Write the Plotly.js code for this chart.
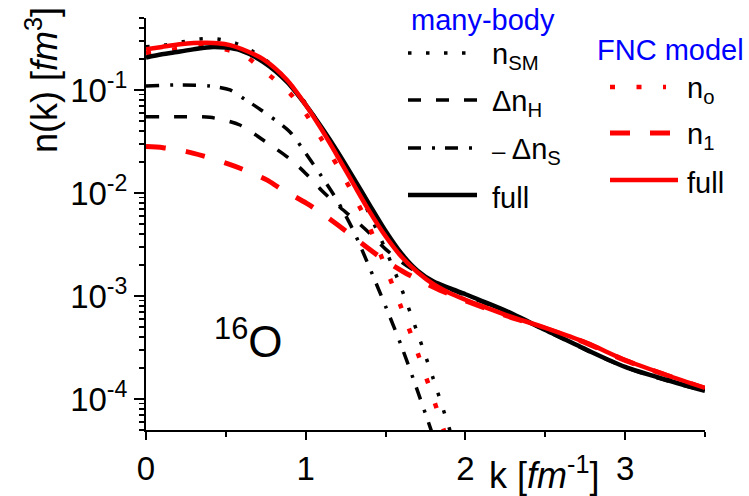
<!DOCTYPE html>
<html><head><meta charset="utf-8">
<script src="https://cdn.plot.ly/plotly-3.0.1.min.js"></script>
<style>html,body{margin:0;padding:0;background:#fff}</style>
</head><body><div id="chart" style="width:749px;height:496px"></div>
<script>
// many-body: n_SM (dotted)
const kSM = [0, 0.119, 0.23, 0.338, 0.449, 0.563, 0.672, 0.784, 0.9, 1.0, 1.1, 1.2, 1.3, 1.4, 1.5, 1.6, 1.7, 1.8, 1.9, 1.95];
const nSM = [0.263, 0.273, 0.294, 0.313, 0.313, 0.284, 0.235, 0.1775, 0.1161, 0.0741, 0.0427, 0.0237, 0.01259, 0.00617, 0.00282, 0.001175, 0.000437, 0.000155, 0.0000513, 0.000029];
// many-body: Delta n_H (dashed)
const kH = [0, 0.213, 0.40, 0.588, 0.733, 0.9, 1.0, 1.1, 1.2, 1.3, 1.4, 1.5, 1.6, 1.7, 1.8, 1.9, 2.0, 2.1, 2.26, 2.5, 2.76, 3.0, 3.26, 3.5];
const nH = [0.055, 0.055, 0.0543, 0.0457, 0.0327, 0.02148, 0.01549, 0.01059, 0.00759, 0.00562, 0.00407, 0.00285, 0.00214, 0.00168, 0.00137, 0.00117, 0.00102, 0.00088, 0.0007, 0.000463, 0.000297, 0.000203, 0.000151, 0.000119];
// many-body: -Delta n_S (dash-dot)
const kS = [0, 0.213, 0.40, 0.526, 0.62, 0.72, 0.9, 1.0, 1.1, 1.2, 1.3, 1.4, 1.5, 1.6, 1.7, 1.8, 1.85];
const nS = [0.1094, 0.112, 0.1094, 0.100, 0.081, 0.064, 0.0394, 0.0243, 0.01445, 0.00832, 0.00427, 0.00188, 0.000794, 0.000324, 0.00012, 0.0000427, 0.000025];
// many-body: full (solid)
const kMB = [0, 0.1, 0.213, 0.32, 0.42, 0.5, 0.588, 0.733, 0.883, 1.008, 1.1, 1.2, 1.3, 1.4, 1.5, 1.6, 1.7, 1.8, 1.9, 2.0, 2.1, 2.26, 2.5, 2.76, 3.0, 3.26, 3.5];
const nMB = [0.207, 0.222, 0.236, 0.252, 0.262, 0.258, 0.244, 0.188, 0.12, 0.069, 0.0432, 0.0251, 0.01396, 0.00767, 0.00427, 0.00257, 0.00176, 0.00138, 0.00119, 0.00104, 0.0009, 0.00071, 0.000468, 0.0003, 0.000205, 0.000153, 0.00012];
// FNC model: n_o (dotted)
const kN0 = [0, 0.15, 0.3, 0.45, 0.609, 0.733, 0.9, 1.0, 1.1, 1.2, 1.3, 1.4, 1.5, 1.6, 1.7, 1.8, 1.9];
const nN0 = [0.227, 0.245, 0.262, 0.255, 0.219, 0.156, 0.0933, 0.0589, 0.0331, 0.0182, 0.00955, 0.00462, 0.0019, 0.000759, 0.000282, 0.0001, 0.0000339];
// FNC model: n_1 (dashed)
const kN1 = [0, 0.107, 0.254, 0.357, 0.505, 0.589, 0.756, 0.839, 1.006, 1.1, 1.257, 1.34, 1.477, 1.611, 1.748, 1.84, 2.0, 2.26, 2.5, 2.76, 3.0, 3.26, 3.5];
const nN1 = [0.0282, 0.0275, 0.0252, 0.0229, 0.0194, 0.0174, 0.0134, 0.0111, 0.00794, 0.00636, 0.00421, 0.00334, 0.00232, 0.00172, 0.00133, 0.00114, 0.0009, 0.00064, 0.000485, 0.000347, 0.000237, 0.00017, 0.000127];
// FNC model: full (solid)
const kFR = [0, 0.1, 0.213, 0.3, 0.382, 0.45, 0.526, 0.6, 0.733, 0.883, 1.0, 1.1, 1.2, 1.3, 1.4, 1.5, 1.6, 1.7, 1.8, 1.9, 2.0, 2.1, 2.26, 2.5, 2.76, 3.0, 3.26, 3.5];
const nFR = [0.248, 0.262, 0.278, 0.286, 0.288, 0.285, 0.273, 0.25, 0.199, 0.125, 0.0716, 0.0412, 0.0226, 0.01216, 0.0066, 0.0038, 0.0024, 0.0017, 0.0013, 0.00107, 0.00092, 0.0008, 0.00065, 0.00049, 0.00035, 0.000239, 0.000171, 0.000128];

const xTickVals = [0, 1, 2, 3];
const xTickText = ['0', '1', '2', '3'];
const yTickVals = [1e-4, 1e-3, 1e-2, 1e-1];
const yTickText = ['10<sup>-4</sup>', '10<sup>-3</sup>', '10<sup>-2</sup>', '10<sup>-1</sup>'];

const mbLabels = ['n<sub>SM</sub>', '\u0394n<sub>H</sub>', '<span style="font-size:24px">\u2013</span> \u0394n<sub>S</sub>', 'full'];
const fncLabels = ['n<sub>o</sub>', 'n<sub>1</sub>', 'full'];

const FONT = 'Liberation Sans, Arial, sans-serif';
const BLACK = '#000000', RED = '#ff0000', BLUE = '#0000ff';

const mbStyles = [
  {k: kSM, n: nSM, color: BLACK, width: 3.5, dash: '3.5px,14.5px'},
  {k: kH, n: nH, color: BLACK, width: 3.5, dash: '13px,15px'},
  {k: kS, n: nS, color: BLACK, width: 3.5, dash: '13px,11px,3px,10px'},
  {k: kMB, n: nMB, color: BLACK, width: 4.5, dash: 'solid'}
];
const fncStyles = [
  {k: kN0, n: nN0, color: RED, width: 4.5, dash: '5px,21.5px'},
  {k: kN1, n: nN1, color: RED, width: 5, dash: '20px,20px'},
  {k: kFR, n: nFR, color: RED, width: 4.5, dash: 'solid'}
];

function mk(s, name) {
  return {x: s.k, y: s.n, type: 'scatter', mode: 'lines', name: name, showlegend: false,
    line: {color: s.color, width: s.width, dash: s.dash, shape: 'spline', smoothing: 0.8}, hoverinfo: 'skip'};
}
// drawing order
const traces = [
  mk(mbStyles[1], 'dnH'), mk(mbStyles[2], 'dnS'), mk(fncStyles[1], 'n1'), mk(fncStyles[0], 'n0'),
  mk(mbStyles[0], 'nSM'), mk(mbStyles[3], 'full MB'), mk(fncStyles[2], 'full FNC')
];

// plot area in pixels: x 146..705, y 18..430
const L = 146, R = 705, T = 18, B = 430;
const PX = p => (p - L) / (R - L);
const PY = p => (B - p) / (B - T);

const shapes = [], annotations = [];
// many-body legend
const mbRowY = [53, 100, 148, 195];
const mbLineEnd = [467, 477, 475, 477];
mbStyles.forEach((s, i) => {
  shapes.push({type: 'line', xref: 'paper', yref: 'paper', x0: PX(408), x1: PX(mbLineEnd[i]), y0: PY(mbRowY[i]), y1: PY(mbRowY[i]),
    line: {color: s.color, width: s.width, dash: s.dash}});
  annotations.push({xref: 'paper', yref: 'paper', x: PX(490), y: PY(mbRowY[i] + 3), xanchor: 'left', yanchor: 'middle',
    text: mbLabels[i], showarrow: false, font: {family: FONT, size: 29, color: BLACK}});
});
annotations.push({xref: 'paper', yref: 'paper', x: PX(483), y: PY(20), xanchor: 'center', yanchor: 'middle',
  text: 'many-body', showarrow: false, font: {family: FONT, size: 29, color: BLUE}});
// FNC legend
const fncRowY = [87, 133, 180];
const fncLineEnd = [666, 670, 678];
fncStyles.forEach((s, i) => {
  shapes.push({type: 'line', xref: 'paper', yref: 'paper', x0: PX(610), x1: PX(fncLineEnd[i]), y0: PY(fncRowY[i]), y1: PY(fncRowY[i]),
    line: {color: s.color, width: s.width, dash: s.dash}});
  annotations.push({xref: 'paper', yref: 'paper', x: PX(685), y: PY(fncRowY[i] + 3), xanchor: 'left', yanchor: 'middle',
    text: fncLabels[i], showarrow: false, font: {family: FONT, size: 29, color: BLACK}});
});
annotations.push({xref: 'paper', yref: 'paper', x: PX(670), y: PY(50), xanchor: 'center', yanchor: 'middle',
  text: 'FNC model', showarrow: false, font: {family: FONT, size: 29, color: BLUE}});
// nucleus label
annotations.push({xref: 'paper', yref: 'paper', x: PX(212), y: PY(338), xanchor: 'left', yanchor: 'middle',
  text: '<sup>16</sup>O', showarrow: false, font: {family: FONT, size: 44, color: BLACK}});
// axis titles
annotations.push({xref: 'paper', yref: 'paper', x: PX(544), y: PY(473), xanchor: 'center', yanchor: 'middle',
  text: 'k [<i>fm</i><sup>-1</sup>]', showarrow: false, font: {family: FONT, size: 36, color: BLACK}});
annotations.push({xref: 'paper', yref: 'paper', x: PX(42), y: PY(80), xanchor: 'center', yanchor: 'middle', textangle: -90,
  text: 'n(k) [<i>fm</i><sup>3</sup>]', showarrow: false, font: {family: FONT, size: 36, color: BLACK}});

const minorY = [];
[1e-5, 1e-4, 1e-3, 1e-2, 1e-1].forEach(d => { for (let m = 2; m <= 9; m++) { const v = m * d; if (v >= 5e-5 && v <= 0.5) minorY.push(v); } });

const layout = {
  width: 749, height: 496,
  margin: {l: L, r: 749 - R, t: T, b: 496 - B},
  paper_bgcolor: '#fff', plot_bgcolor: '#fff',
  font: {family: FONT, color: BLACK},
  showlegend: false,
  xaxis: {range: [0, 3.5], tickmode: 'array', tickvals: xTickVals, ticktext: xTickText,
    ticks: 'outside', ticklen: 8, tickwidth: 2, tickcolor: BLACK,
    showline: true, linewidth: 2, linecolor: BLACK, showgrid: false, zeroline: false,
    tickfont: {family: FONT, size: 33, color: BLACK},
    minor: {tickvals: [0.5, 1.5, 2.5, 3.5], ticks: 'outside', ticklen: 5, tickwidth: 2, tickcolor: BLACK, showgrid: false}},
  yaxis: {type: 'log', range: [Math.log10(5e-5), Math.log10(0.5)], tickmode: 'array', tickvals: yTickVals, ticktext: yTickText,
    ticks: 'outside', ticklen: 10, tickwidth: 2, tickcolor: BLACK,
    showline: true, linewidth: 2, linecolor: BLACK, showgrid: false, zeroline: false,
    tickfont: {family: FONT, size: 33, color: BLACK},
    minor: {tickvals: minorY, ticks: 'outside', ticklen: 5, tickwidth: 1.5, tickcolor: BLACK, showgrid: false}},
  shapes: shapes,
  annotations: annotations
};

Plotly.newPlot('chart', traces, layout, {staticPlot: true, displayModeBar: false});
</script>
</body></html>
